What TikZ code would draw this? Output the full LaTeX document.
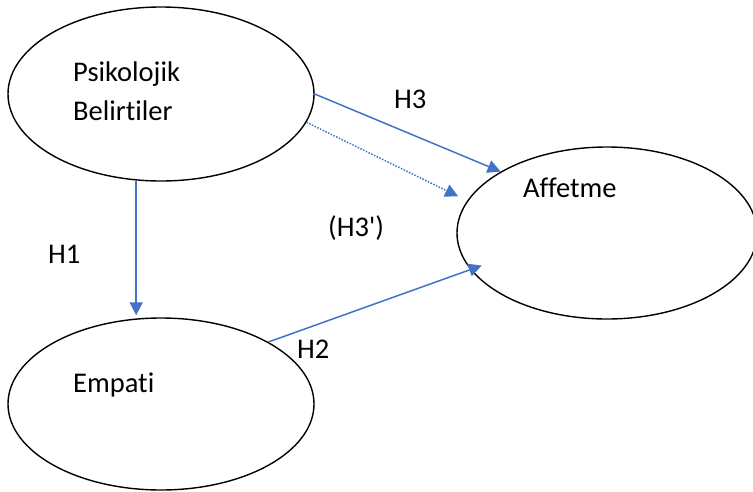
\documentclass[tikz,border=0pt]{standalone}
\usepackage{fontspec}
\setmainfont[Ligatures=NoCommon]{Carlito}
\usetikzlibrary{shapes.geometric,arrows.meta}
\definecolor{arrowblue}{RGB}{68,114,196}
\tikzset{
  oval/.style={draw=black, line width=1.4pt, ellipse, inner sep=0pt},
  lbl/.style={anchor=base west, inner sep=0pt, font=\fontsize{28.5}{32}\selectfont, text=black},
  conn/.style={draw=arrowblue, line width=1.5pt, -{Triangle[length=13pt,width=13pt]}},
  dotconn/.style={conn, dash pattern=on 1.5pt off 1.5pt}
}
\begin{document}
\begin{tikzpicture}[x=1pt,y=-1pt]
\useasboundingbox (0,0) rectangle (753,491);
\node[oval, minimum width=306pt, minimum height=174pt] (psi) at (161,94) {};
\node[oval, minimum width=306pt, minimum height=172pt] (emp) at (161,404) {};
\node[oval, minimum width=300pt, minimum height=172pt] (aff) at (607,233) {};

\node[lbl] (t1) at (73,81) {Psikolojik};
\node[lbl] (t2) at (73,120) {Belirtiler};
\node[lbl] (t3) at (523,197) {Affetme};
\node[lbl] (t4) at (73,392) {Empati};
\node[lbl] (h3) at (394,108) {H3};
\node[lbl] (h3p) at (328,236) {(H3\textquotesingle)};
\node[lbl] (h1) at (48,263) {H1};
\node[lbl] (h2) at (297,358) {H2};

\draw[conn, shorten >=2pt] (psi.254) -- (psi.254 |- emp.north);
\draw[conn] (psi.0) -- (aff.150);
\draw[dotconn, shorten >=10pt] (psi.-11) -- (aff.167);
\draw[conn, shorten >=-12pt] (emp.30) -- (aff.195);
\end{tikzpicture}
\end{document}
